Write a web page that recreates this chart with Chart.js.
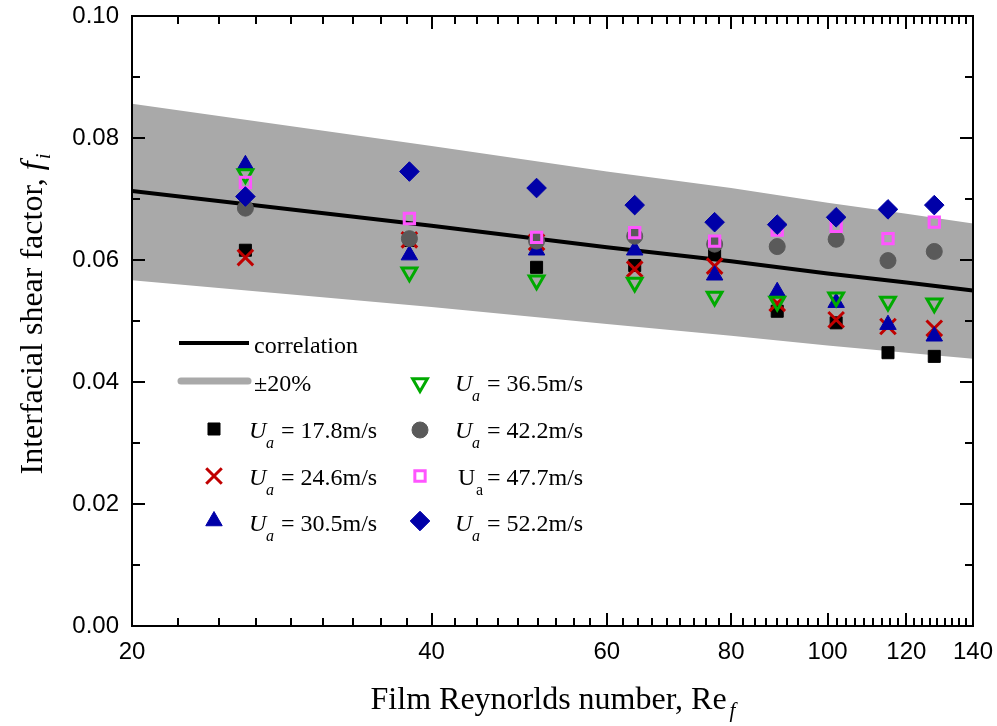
<!DOCTYPE html>
<html>
<head>
<meta charset="utf-8">
<script src="https://cdn.jsdelivr.net/npm/chart.js@4/dist/chart.umd.min.js"></script>
<style>
html,body{margin:0;padding:0;background:#ffffff;}
#wrap{width:997px;height:726px;position:relative;}
</style>
</head>
<body>
<div id="wrap"><canvas id="c" width="997" height="726"></canvas></div>
<script>
// ---- data ----
const reValues = [26, 38, 51, 64, 77, 89, 102, 115, 128];
const ua178 = [0.0616, 0.0632, 0.0588, 0.0591, 0.0609, 0.0516, 0.0497, 0.0448, 0.0442];
const ua246 = [0.0604, 0.0633, 0.0629, 0.0585, 0.0590, 0.0529, 0.0502, 0.0491, 0.0488];
const ua305 = [0.0756, 0.0608, 0.0616, 0.0616, 0.0575, 0.0548, 0.0530, 0.0494, 0.0475];
const ua365 = [0.0741, 0.0580, 0.0567, 0.0563, 0.0540, 0.0532, 0.0539, 0.0532, 0.0529];
const ua422 = [0.0685, 0.0635, 0.0631, 0.0639, 0.0626, 0.0622, 0.0634, 0.0599, 0.0614];
const ua477 = [0.0727, 0.0668, 0.0637, 0.0645, 0.0631, 0.0649, 0.0655, 0.0635, 0.0662];
const ua522 = [0.0704, 0.0745, 0.0718, 0.0690, 0.0662, 0.0658, 0.0670, 0.0683, 0.0690];

const corrRe = [20, 40, 60, 80, 100, 120, 140];
const corrF = [0.0713, 0.0656, 0.0621, 0.0598, 0.0578, 0.0563, 0.0550];
const bandUpper = [0.0856, 0.0787, 0.0745, 0.0718, 0.0694, 0.0676, 0.0660];
const bandLower = [0.0567, 0.0523, 0.0495, 0.0476, 0.0460, 0.0448, 0.0438];

const xTickLabels = [20, 40, 60, 80, 100, 120, 140];
const yTickLabels = [0.00, 0.02, 0.04, 0.06, 0.08, 0.10];

const seriesNames = ['17.8', '24.6', '30.5', '36.5', '42.2', '47.7', '52.2'];

// ---- styles ----
const pts = (arr) => reValues.map((x, i) => ({x: x, y: arr[i]}));
const lin = (arr) => corrRe.map((x, i) => ({x: x, y: arr[i]}));

const markerStyles = [
  {pointStyle: 'rect', radius: 8.5, bg: '#000000', border: '#000000', bw: 1, rot: 0},
  {pointStyle: 'crossRot', radius: 11, bg: 'rgba(0,0,0,0)', border: '#c00000', bw: 3, rot: 0},
  {pointStyle: 'triangle', radius: 9.5, bg: '#0000a8', border: '#0000a8', bw: 1, rot: 0},
  {pointStyle: 'triangle', radius: 8.5, bg: 'rgba(0,0,0,0)', border: '#00aa00', bw: 3, rot: 180},
  {pointStyle: 'circle', radius: 8, bg: '#5a5a5a', border: '#5a5a5a', bw: 1, rot: 0},
  {pointStyle: 'rect', radius: 7.3, bg: 'rgba(0,0,0,0)', border: '#ff55ff', bw: 3, rot: 0},
  {pointStyle: 'rectRot', radius: 9.8, bg: '#0000a8', border: '#0000a8', bw: 1, rot: 0}
];
const seriesData = [ua178, ua246, ua305, ua365, ua422, ua477, ua522];

const datasets = [
  {label: 'upper', data: lin(bandUpper), showLine: true, borderWidth: 0, borderColor: 'rgba(0,0,0,0)',
   backgroundColor: '#a9a9a9', fill: '+1', pointRadius: 0, order: 30},
  {label: 'lower', data: lin(bandLower), showLine: true, borderWidth: 0, borderColor: 'rgba(0,0,0,0)',
   backgroundColor: '#a9a9a9', fill: false, pointRadius: 0, order: 29},
  {label: 'correlation', data: lin(corrF), showLine: true, borderWidth: 4, borderColor: '#000000',
   fill: false, pointRadius: 0, order: 20, borderCapStyle: 'butt'}
];
seriesData.forEach((arr, i) => {
  const m = markerStyles[i];
  datasets.push({
    label: 'Ua = ' + seriesNames[i] + 'm/s',
    data: pts(arr), showLine: false,
    pointStyle: m.pointStyle, pointRadius: m.radius, pointRotation: m.rot,
    pointBackgroundColor: m.bg, pointBorderColor: m.border, pointBorderWidth: m.bw,
    order: 10 - i
  });
});

// ---- custom plugin: frame, inward ticks, axis titles, legend ----
const decor = {
  id: 'decor',
  afterDatasetsDraw(chart) {
    const {ctx, chartArea: a, scales} = chart;
    const xs = scales.x, ys = scales.y;
    ctx.save();
    ctx.strokeStyle = '#000';
    ctx.lineWidth = 2;
    ctx.lineCap = 'butt';
    ctx.strokeRect(a.left, a.top, a.right - a.left, a.bottom - a.top);
    ctx.beginPath();
    for (let k = 0; k < xTickLabels.length; k++) {
      const v = xTickLabels[k];
      const px = Math.round(xs.getPixelForValue(v));
      ctx.moveTo(px, a.bottom); ctx.lineTo(px, a.bottom - 13);
      ctx.moveTo(px, a.top); ctx.lineTo(px, a.top + 13);
      if (k < xTickLabels.length - 1) {
        const step = (xTickLabels[k + 1] - v) / 9;
        for (let j = 1; j < 9; j++) {
          const mx = Math.round(xs.getPixelForValue(v + j * step));
          ctx.moveTo(mx, a.bottom); ctx.lineTo(mx, a.bottom - 8);
          ctx.moveTo(mx, a.top); ctx.lineTo(mx, a.top + 8);
        }
      }
    }
    for (let k = 0; k < yTickLabels.length; k++) {
      const v = yTickLabels[k];
      const py = Math.round(ys.getPixelForValue(v));
      ctx.moveTo(a.left, py); ctx.lineTo(a.left + 13, py);
      ctx.moveTo(a.right, py); ctx.lineTo(a.right - 13, py);
      if (k < yTickLabels.length - 1) {
        const my = Math.round(ys.getPixelForValue((v + yTickLabels[k + 1]) / 2));
        ctx.moveTo(a.left, my); ctx.lineTo(a.left + 8, my);
        ctx.moveTo(a.right, my); ctx.lineTo(a.right - 8, my);
      }
    }
    ctx.stroke();
    ctx.restore();
  },
  afterDraw(chart) {
    const {ctx} = chart;
    const serif = '"Liberation Serif", "Times New Roman", serif';
    ctx.save();
    ctx.fillStyle = '#000';
    ctx.textBaseline = 'alphabetic';

    // x-axis title
    const xMain = 'Film Reynorlds number, Re';
    ctx.font = '32px ' + serif;
    const wMain = ctx.measureText(xMain).width;
    ctx.font = 'italic 21px ' + serif;
    const wSub = ctx.measureText('f').width;
    const xStart = 553 - (wMain + wSub + 3) / 2;
    ctx.font = '32px ' + serif;
    ctx.textAlign = 'left';
    ctx.fillText(xMain, xStart, 709);
    ctx.font = 'italic 21px ' + serif;
    ctx.fillText('f', xStart + wMain + 3, 717);

    // y-axis title (rotated)
    ctx.save();
    ctx.translate(42, 314);
    ctx.rotate(-Math.PI / 2);
    const yMain = 'Interfacial shear factor, ';
    ctx.font = '32px ' + serif;
    const wy = ctx.measureText(yMain).width;
    ctx.font = 'italic 32px ' + serif;
    const wf = ctx.measureText('f').width;
    ctx.font = 'italic 21px ' + serif;
    const wi = ctx.measureText('i').width;
    let sx = -(wy + wf + wi + 2) / 2;
    ctx.font = '32px ' + serif;
    ctx.fillText(yMain, sx, 0);
    ctx.font = 'italic 32px ' + serif;
    ctx.fillText('f', sx + wy, 0);
    ctx.font = 'italic 21px ' + serif;
    ctx.fillText('i', sx + wy + wf + 2, 8);
    ctx.restore();

    // legend lines
    ctx.lineCap = 'butt';
    ctx.strokeStyle = '#000'; ctx.lineWidth = 4;
    ctx.beginPath(); ctx.moveTo(179, 343); ctx.lineTo(249, 343); ctx.stroke();
    ctx.lineCap = 'round';
    ctx.strokeStyle = '#a9a9a9'; ctx.lineWidth = 7;
    ctx.beginPath(); ctx.moveTo(181, 381); ctx.lineTo(248, 381); ctx.stroke();
    ctx.font = '24px ' + serif;
    ctx.fillText('correlation', 254, 353);
    ctx.fillText('\u00B120%', 254, 391);

    // legend markers + labels
    const slots = [
      {mx: 214, my: 429, tx: 249, base: 438},
      {mx: 214, my: 476, tx: 249, base: 485},
      {mx: 214, my: 521, tx: 249, base: 531},
      {mx: 420, my: 383, tx: 455, base: 391},
      {mx: 420, my: 430, tx: 455, base: 438},
      {mx: 420, my: 476, tx: 455, base: 485},
      {mx: 420, my: 521, tx: 455, base: 531}
    ];
    slots.forEach((s, i) => {
      const m = markerStyles[i];
      ctx.save();
      ctx.fillStyle = m.bg; ctx.strokeStyle = m.border; ctx.lineWidth = m.bw;
      ctx.lineCap = 'butt';
      Chart.helpers.drawPoint(ctx, {pointStyle: m.pointStyle, radius: m.radius, rotation: m.rot, borderWidth: m.bw}, s.mx, s.my);
      ctx.restore();
      const italic = (i !== 5);
      ctx.fillStyle = '#000';
      ctx.font = (italic ? 'italic ' : '') + '24px ' + serif;
      ctx.fillText('U', s.tx + (italic ? 0 : 3), s.base);
      ctx.font = (italic ? 'italic ' : '') + '16px ' + serif;
      ctx.fillText('a', s.tx + (italic ? 17 : 21), s.base + 10);
      ctx.font = '24px ' + serif;
      ctx.fillText('= ' + seriesNames[i] + 'm/s', s.tx + 32, s.base);
    });
    ctx.restore();
  }
};

new Chart(document.getElementById('c'), {
  type: 'scatter',
  data: {datasets: datasets},
  options: {
    responsive: false,
    animation: false,
    events: [],
    layout: {padding: {top: 16, right: 24, left: 0, bottom: 0}},
    plugins: {legend: {display: false}, tooltip: {enabled: false}},
    scales: {
      x: {
        type: 'logarithmic', min: 20, max: 140,
        grid: {display: false, drawTicks: false},
        border: {display: false},
        afterBuildTicks: (s) => { s.ticks = xTickLabels.map(v => ({value: v, major: true})); },
        afterFit: (s) => { s.height = 100; s.paddingLeft = 0; s.paddingRight = 0; },
        ticks: {
          autoSkip: false, maxRotation: 0, padding: 12, color: '#000',
          font: {family: '"Liberation Sans", Arial, sans-serif', size: 24},
          callback: (v) => String(v)
        }
      },
      y: {
        type: 'linear', min: 0, max: 0.1,
        grid: {display: false, drawTicks: false},
        border: {display: false},
        afterBuildTicks: (s) => { s.ticks = yTickLabels.map(v => ({value: v})); },
        afterFit: (s) => { s.width = 132; s.paddingTop = 0; s.paddingBottom = 0; },
        ticks: {
          autoSkip: false, padding: 13, color: '#000',
          font: {family: '"Liberation Sans", Arial, sans-serif', size: 24},
          callback: (v) => Number(v).toFixed(2)
        }
      }
    }
  },
  plugins: [decor]
});
</script>
</body>
</html>
